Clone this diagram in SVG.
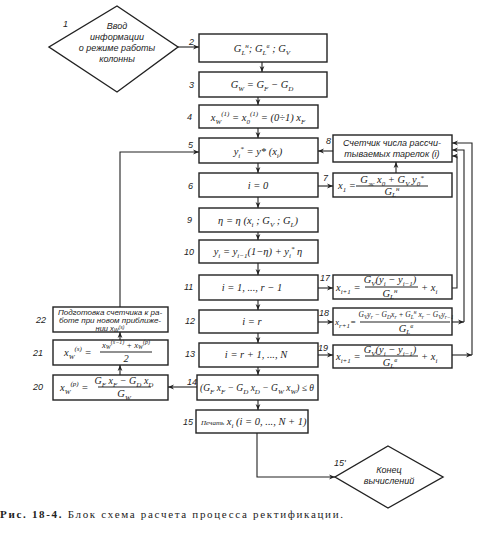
<svg xmlns="http://www.w3.org/2000/svg" width="487" height="540" viewBox="0 0 487 540">
<defs>
<marker id="ar" viewBox="0 0 10 10" refX="10" refY="5" markerWidth="7" markerHeight="6" orient="auto" markerUnits="userSpaceOnUse"><path d="M0,1 L10,5 L0,9 L3,5 Z" fill="#222"/></marker>
</defs>
<style>
.b{fill:#fff;stroke:#222;stroke-width:1.4}
.c{fill:none;stroke:#222;stroke-width:1.1}
.f{font-family:"Liberation Serif",serif;font-style:italic;font-size:10.5px;fill:#222}
.t{font-family:"Liberation Sans",sans-serif;font-style:italic;font-size:9px;fill:#222}
.n{font-family:"Liberation Sans",sans-serif;font-style:italic;font-size:9px;fill:#222}
.s{font-size:7px}
.m{text-anchor:middle}
</style>
<rect width="487" height="540" fill="#fff"/>
<g id="connectors">
<path class="c" d="M178,47 H199" marker-end="url(#ar)"/>
<path class="c" d="M262,62 V72" marker-end="url(#ar)"/>
<path class="c" d="M258,97 V105" marker-end="url(#ar)"/>
<path class="c" d="M258,128 V138" marker-end="url(#ar)"/>
<path class="c" d="M258,163 V173" marker-end="url(#ar)"/>
<path class="c" d="M258,197 V208" marker-end="url(#ar)"/>
<path class="c" d="M258,232 V240" marker-end="url(#ar)"/>
<path class="c" d="M258,263 V275" marker-end="url(#ar)"/>
<path class="c" d="M258,300 V310" marker-end="url(#ar)"/>
<path class="c" d="M258,333 V343" marker-end="url(#ar)"/>
<path class="c" d="M258,367 V375" marker-end="url(#ar)"/>
<path class="c" d="M258,400 V410" marker-end="url(#ar)"/>
<path class="c" d="M318,186 H333" marker-end="url(#ar)"/>
<path class="c" d="M396,173 V162" marker-end="url(#ar)"/>
<path class="c" d="M333,151 H318" marker-end="url(#ar)"/>
<path class="c" d="M318,288 H333" marker-end="url(#ar)"/>
<path class="c" d="M318,322 H333" marker-end="url(#ar)"/>
<path class="c" d="M318,355 H333" marker-end="url(#ar)"/>
<path class="c" d="M452,288 H457 V156 H452" marker-end="url(#ar)"/>
<path class="c" d="M452,322 H464" marker-end="url(#ar)"/>
<path class="c" d="M464,322 V150 H452" marker-end="url(#ar)"/>
<path class="c" d="M452,355 H472" marker-end="url(#ar)"/>
<path class="c" d="M472,355 V143 H452" marker-end="url(#ar)"/>
<path class="c" d="M197,387 H168" marker-end="url(#ar)"/>
<path class="c" d="M120,375 V365" marker-end="url(#ar)"/>
<path class="c" d="M120,340 V332" marker-end="url(#ar)"/>
<path class="c" d="M120,307 V152 H199" marker-end="url(#ar)"/>
<path class="c" d="M257,433 V477 H335" marker-end="url(#ar)"/>
</g>
<g id="n1">
<path class="b" d="M117,6 L178,47 L117,92 L49,47 Z"/>
<text class="t m" x="117" y="29">Ввод</text>
<text class="t m" x="117" y="40">информации</text>
<text class="t m" x="117" y="51">о режиме работы</text>
<text class="t m" x="117" y="62">колонны</text>
<text class="n" x="63" y="27">1</text>
</g>
<g id="n2">
<rect class="b" x="199" y="34" width="128" height="28"/>
<text class="f m" x="262" y="52">G<tspan class="s" dy="3">L</tspan><tspan class="s" dy="-7">н</tspan><tspan dy="4">; G</tspan><tspan class="s" dy="3">L</tspan><tspan class="s" dy="-7">в</tspan><tspan dy="4"> ; G</tspan><tspan class="s" dy="3">V</tspan></text>
<text class="n" x="189" y="45">2</text>
</g>
<g id="n3">
<rect class="b" x="199" y="72" width="128" height="25"/>
<text class="f m" x="262" y="88">G<tspan class="s" dy="3">W</tspan><tspan dy="-3"> = G</tspan><tspan class="s" dy="3">F</tspan><tspan dy="-3"> − G</tspan><tspan class="s" dy="3">D</tspan></text>
<text class="n" x="189" y="88">3</text>
</g>
<g id="n4">
<rect class="b" x="199" y="105" width="119" height="23"/>
<text class="f m" x="258" y="121">x<tspan class="s" dy="3">W</tspan><tspan class="s" dy="-8">(1)</tspan><tspan dy="5"> = x</tspan><tspan class="s" dy="3">0</tspan><tspan class="s" dy="-8">(1)</tspan><tspan dy="5"> = (0÷1) x</tspan><tspan class="s" dy="3">F</tspan></text>
<text class="n" x="187" y="120">4</text>
</g>
<g id="n5">
<rect class="b" x="199" y="138" width="119" height="25"/>
<text class="f m" x="258" y="155">y<tspan class="s" dy="3">i</tspan><tspan class="s" dy="-7">*</tspan><tspan dy="4"> = y* (x</tspan><tspan class="s" dy="3">i</tspan><tspan dy="-3">)</tspan></text>
<text class="n" x="188" y="148">5</text>
</g>
<g id="n6">
<rect class="b" x="199" y="173" width="119" height="24"/>
<text class="f m" x="258" y="189">i = 0</text>
<text class="n" x="188" y="189">6</text>
</g>
<g id="n7">
<rect class="b" x="333" y="173" width="119" height="24"/>
<text class="f" x="338" y="189">x<tspan class="s" dy="3">1</tspan><tspan dy="-3"> =</tspan></text>
<text class="f m" x="392" y="183">G<tspan class="s" dy="3">ж</tspan><tspan dy="-3"> x</tspan><tspan class="s" dy="3">0</tspan><tspan dy="-3"> + G</tspan><tspan class="s" dy="3">V</tspan><tspan dy="-3"> y</tspan><tspan class="s" dy="3">0</tspan><tspan class="s" dy="-6">*</tspan></text>
<line class="c" x1="356" y1="186" x2="428" y2="186"/>
<text class="f m" x="392" y="195">G<tspan class="s" dy="2">L</tspan><tspan class="s" dy="-6">н</tspan></text>
<text class="n" x="323" y="181">7</text>
</g>
<g id="n8">
<rect class="b" x="333" y="135" width="119" height="27"/>
<text class="t m" x="392" y="146">Счетчик числа рассчи-</text>
<text class="t m" x="392" y="157">тываемых тарелок (i)</text>
<text class="n" x="326" y="144">8</text>
</g>
<g id="n9">
<rect class="b" x="199" y="208" width="119" height="24"/>
<text class="f m" x="258" y="224">η = η (x<tspan class="s" dy="3">i</tspan><tspan dy="-3"> ; G</tspan><tspan class="s" dy="3">V</tspan><tspan dy="-3"> ; G</tspan><tspan class="s" dy="3">L</tspan><tspan dy="-3">)</tspan></text>
<text class="n" x="187" y="223">9</text>
</g>
<g id="n10">
<rect class="b" x="199" y="240" width="119" height="23"/>
<text class="f m" x="258" y="255">y<tspan class="s" dy="3">i</tspan><tspan dy="-3"> = y</tspan><tspan class="s" dy="3">i−1</tspan><tspan dy="-3">(1−η) + y</tspan><tspan class="s" dy="3">i</tspan><tspan class="s" dy="-7">*</tspan><tspan dy="4"> η</tspan></text>
<text class="n" x="184" y="255">10</text>
</g>
<g id="n11">
<rect class="b" x="199" y="275" width="119" height="25"/>
<text class="f m" x="252" y="291">i = 1, ..., r − 1</text>
<text class="n" x="184" y="290">11</text>
</g>
<g id="n12">
<rect class="b" x="199" y="310" width="119" height="23"/>
<text class="f m" x="252" y="325">i = r</text>
<text class="n" x="185" y="324">12</text>
</g>
<g id="n13">
<rect class="b" x="199" y="343" width="119" height="24"/>
<text class="f m" x="256" y="358">i = r + 1, ..., N</text>
<text class="n" x="185" y="357">13</text>
</g>
<g id="n14">
<rect class="b" x="197" y="375" width="121" height="25"/>
<text class="f m" x="257" y="391" style="font-size:9.5px">(G<tspan class="s" dy="3">F</tspan><tspan dy="-3"> x</tspan><tspan class="s" dy="3">F</tspan><tspan dy="-3"> − G</tspan><tspan class="s" dy="3">D</tspan><tspan dy="-3"> x</tspan><tspan class="s" dy="3">D</tspan><tspan dy="-3"> − G</tspan><tspan class="s" dy="3">W</tspan><tspan dy="-3"> x</tspan><tspan class="s" dy="3">W</tspan><tspan dy="-3">) ≤ θ</tspan></text>
<text class="n" x="187" y="385">14</text>
</g>
<g id="n15">
<rect class="b" x="196" y="410" width="112" height="23"/>
<text class="f" x="201" y="425"><tspan class="s">Печать</tspan> x<tspan class="s" dy="3">i</tspan><tspan dy="-3"> (i = 0, ..., N + 1)</tspan></text>
<text class="n" x="183" y="425">15</text>
</g>
<g id="n15e">
<path class="b" d="M388,446 L443,477 L388,508 L335,477 Z"/>
<text class="t m" x="389" y="473">Конец</text>
<text class="t m" x="389" y="484">вычислений</text>
<text class="n" x="334" y="466">15'</text>
</g>
<g id="n17">
<rect class="b" x="333" y="275" width="119" height="24"/>
<text class="f" x="336" y="291">x<tspan class="s" dy="3">i+1</tspan><tspan dy="-3"> =</tspan></text>
<text class="f m" x="390" y="283">G<tspan class="s" dy="3">V</tspan><tspan dy="-3">(y</tspan><tspan class="s" dy="3">i</tspan><tspan dy="-3"> − y</tspan><tspan class="s" dy="3">i−1</tspan><tspan dy="-3">)</tspan></text>
<line class="c" x1="365" y1="287" x2="418" y2="287"/>
<text class="f m" x="390" y="297">G<tspan class="s" dy="2">L</tspan><tspan class="s" dy="-6">н</tspan></text>
<text class="f" x="421" y="291">+ x<tspan class="s" dy="3">i</tspan></text>
<text class="n" x="320" y="281">17</text>
</g>
<g id="n18">
<rect class="b" x="333" y="308" width="119" height="27"/>
<text class="f" x="335" y="325" style="font-size:9px">x<tspan class="s" dy="3">r+1</tspan><tspan dy="-3">=</tspan></text>
<text class="f m" x="406" y="317" style="font-size:7.5px">G<tspan style="font-size:5.5px" dy="2">V</tspan><tspan dy="-2">y</tspan><tspan style="font-size:5.5px" dy="2">r</tspan><tspan dy="-2"> − G</tspan><tspan style="font-size:5.5px" dy="2">D</tspan><tspan dy="-2">x</tspan><tspan style="font-size:5.5px" dy="2">r</tspan><tspan dy="-2"> + G</tspan><tspan style="font-size:5.5px" dy="2">L</tspan><tspan style="font-size:5.5px" dy="-5">н</tspan><tspan dy="3"> x</tspan><tspan style="font-size:5.5px" dy="2">r</tspan><tspan dy="-2"> − G</tspan><tspan style="font-size:5.5px" dy="2">V</tspan><tspan dy="-2">y</tspan><tspan style="font-size:5.5px" dy="2">r−1</tspan></text>
<line class="c" x1="360" y1="322" x2="450" y2="322"/>
<text class="f m" x="406" y="332">G<tspan class="s" dy="2">L</tspan><tspan class="s" dy="-6">в</tspan></text>
<text class="n" x="319" y="316">18</text>
</g>
<g id="n19">
<rect class="b" x="333" y="345" width="119" height="23"/>
<text class="f" x="336" y="360">x<tspan class="s" dy="3">i+1</tspan><tspan dy="-3"> =</tspan></text>
<text class="f m" x="390" y="353">G<tspan class="s" dy="3">V</tspan><tspan dy="-3">(y</tspan><tspan class="s" dy="3">i</tspan><tspan dy="-3"> − y</tspan><tspan class="s" dy="3">i−1</tspan><tspan dy="-3">)</tspan></text>
<line class="c" x1="365" y1="356" x2="418" y2="356"/>
<text class="f m" x="390" y="366">G<tspan class="s" dy="2">L</tspan><tspan class="s" dy="-6">в</tspan></text>
<text class="f" x="421" y="360">+ x<tspan class="s" dy="3">i</tspan></text>
<text class="n" x="318" y="351">19</text>
</g>
<g id="n20">
<rect class="b" x="53" y="375" width="115" height="25"/>
<text class="f" x="60" y="391">x<tspan class="s" dy="3">W</tspan><tspan class="s" dy="-8">(p)</tspan><tspan dy="5"> =</tspan></text>
<text class="f m" x="124" y="384" style="font-size:10px">G<tspan class="s" dy="3">F</tspan><tspan dy="-3"> x</tspan><tspan class="s" dy="3">F</tspan><tspan dy="-3"> − G</tspan><tspan class="s" dy="3">D</tspan><tspan dy="-3"> x</tspan><tspan class="s" dy="3">D</tspan></text>
<line class="c" x1="98" y1="387" x2="151" y2="387"/>
<text class="f m" x="124" y="397">G<tspan class="s" dy="3">W</tspan></text>
<text class="n" x="33" y="390">20</text>
</g>
<g id="n21">
<rect class="b" x="53" y="340" width="115" height="25"/>
<text class="f" x="64" y="356">x<tspan class="s" dy="3">W</tspan><tspan class="s" dy="-8">(s)</tspan><tspan dy="5"> =</tspan></text>
<text class="f m" x="126" y="348" style="font-size:8.5px">x<tspan style="font-size:6px" dy="1">W</tspan><tspan style="font-size:6px" dy="-5">(s−1)</tspan><tspan dy="4"> + x</tspan><tspan style="font-size:6px" dy="1">W</tspan><tspan style="font-size:6px" dy="-5">(p)</tspan></text>
<line class="c" x1="100" y1="352" x2="152" y2="352"/>
<text class="f m" x="126" y="362">2</text>
<text class="n" x="33" y="356">21</text>
</g>
<g id="n22">
<rect class="b" x="53" y="307" width="115" height="25"/>
<text class="t m" x="110" y="314.5" style="font-size:8px">Подготовка счетчика к ра-</text>
<text class="t m" x="110" y="322.5" style="font-size:8px">боте при новом приближе-</text>
<text class="t m" x="110" y="330.5" style="font-size:7.5px">нии x<tspan style="font-size:5px" dy="1">W</tspan><tspan style="font-size:5px" dy="-3">(s)</tspan></text>
<text class="n" x="36" y="323">22</text>
</g>
<text x="0" y="518" textLength="343" style="font-family:'Liberation Serif',serif;font-size:11px;fill:#222"><tspan font-weight="bold">Рис. 18-4.</tspan> Блок схема расчета процесса ректификации.</text>
</svg>
